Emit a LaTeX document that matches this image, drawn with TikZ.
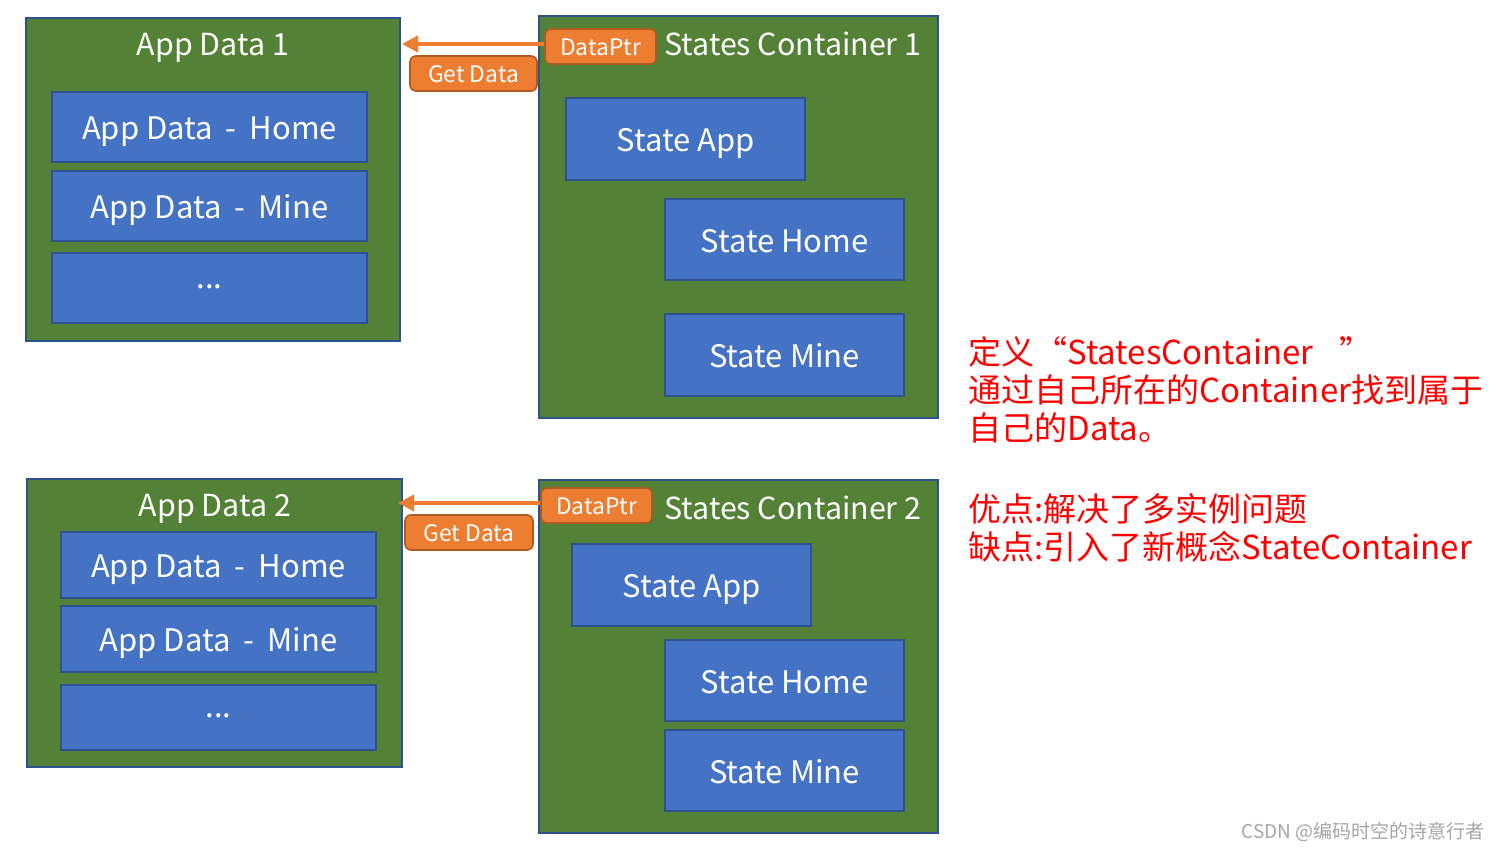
\documentclass[tikz,border=0pt]{standalone}
\usepackage{fontspec}
\setmainfont{Noto Sans CJK SC}
\usetikzlibrary{arrows.meta}
\definecolor{gfill}{HTML}{538135}
\definecolor{bfill}{HTML}{4472C4}
\definecolor{bline}{HTML}{2F528F}
\definecolor{ofill}{HTML}{ED7D31}
\definecolor{oline}{HTML}{AE5A21}
\newcommand{\dsh}{\hspace{0.42em}-\hspace{0.42em}}
\tikzset{
  greenbox/.style={draw=bline,fill=gfill,line width=0.8pt,inner sep=0pt},
  bluebox/.style={draw=bline,fill=bfill,line width=0.8pt,inner sep=0pt,text=white,font=\fontsize{15.5}{18}\selectfont,text height=12.6pt,text depth=0pt},
  dotsbox/.style={bluebox,text height=0pt},
  titletext/.style={text=white,font=\fontsize{15.2}{18}\selectfont,inner sep=0pt,anchor=base},
  tagbox/.style={draw=oline,fill=ofill,rounded corners=3pt,line width=0.8pt,inner sep=0pt,text=white,font=\fontsize{11.4}{13}\selectfont,minimum height=17.5pt,text height=8.6pt,text depth=0pt},
  arr/.style={draw=ofill,line width=2pt,-{Triangle[length=8pt,width=8pt]}},
  redtext/.style={text=red,font=\fontsize{16.5}{19}\selectfont,inner sep=0pt,anchor=west},
}
\begin{document}
\begin{tikzpicture}[x=0.5pt,y=-0.5pt]
\useasboundingbox[fill=white] (0,0) rectangle (1500,851);
% ---------- top group ----------
\node[greenbox,minimum width=187pt,minimum height=161.5pt] (box1) at (213,179.5) {};
\node[titletext] (t1) at (213,55) {App Data 1};
\node[bluebox,minimum width=157.5pt,minimum height=35pt] (a1h) at (209.5,127) {App Data\dsh Home};
\node[bluebox,minimum width=157.5pt,minimum height=35pt] (a1m) at (209.5,206) {App Data\dsh Mine};
\node[dotsbox,minimum width=157.5pt,minimum height=35pt] (a1d) at (209.5,288) {...};

\node[greenbox,minimum width=199.5pt,minimum height=201pt] (sc1) at (738.5,217) {};
\node[titletext,anchor=base west] (st1) at (664,55) {States Container 1};
\node[tagbox,minimum width=55.5pt] (dp1) at (600.5,46.5) {DataPtr};
\node[tagbox,minimum width=63.5pt] (gd1) at (473.5,73.5) {Get Data};
\node[bluebox,minimum width=119.5pt,minimum height=41pt] (sa1) at (685.5,139) {State App};
\node[bluebox,minimum width=119.5pt,minimum height=40.5pt] (sh1) at (784.5,239.5) {State Home};
\node[bluebox,minimum width=119.5pt,minimum height=41pt] (sm1) at (784.5,355) {State Mine};
\coordinate (e1) at (402,44);
\draw[arr] (dp1.west |- e1) -- (e1);

% ---------- bottom group ----------
\node[greenbox,minimum width=187.5pt,minimum height=144pt] (box2) at (214.5,623) {};
\node[titletext] (t2) at (215,516) {App Data 2};
\node[bluebox,minimum width=157.5pt,minimum height=33pt] (a2h) at (218.5,565) {App Data\dsh Home};
\node[bluebox,minimum width=157.5pt,minimum height=33pt] (a2m) at (218.5,639) {App Data\dsh Mine};
\node[dotsbox,minimum width=157.5pt,minimum height=32.5pt] (a2d) at (218.5,717.5) {...};

\node[greenbox,minimum width=199.5pt,minimum height=176.5pt] (sc2) at (738.5,656.5) {};
\node[titletext,anchor=base west] (st2) at (664,519) {States Container 2};
\node[tagbox,minimum width=55.5pt] (dp2) at (596.5,505.5) {DataPtr};
\node[tagbox,minimum width=64pt] (gd2) at (469,532.5) {Get Data};
\node[bluebox,minimum width=119.5pt,minimum height=41pt] (sa2) at (691.5,585) {State App};
\node[bluebox,minimum width=119.5pt,minimum height=40.5pt] (sh2) at (784.5,680.5) {State Home};
\node[bluebox,minimum width=119.5pt,minimum height=40.5pt] (sm2) at (784.5,770.5) {State Mine};
\coordinate (e2) at (398,503);
\draw[arr] (dp2.west |- e2) -- (e2);

% ---------- red notes ----------
\node[redtext] (r1) at (968,352) {定义“StatesContainer\hspace{0.8em}”};
\node[redtext] (r2) at (968,390) {通过自己所在的Container找到属于};
\node[redtext] (r3) at (968,428) {自己的Data。};
\node[redtext] (r4) at (968,509) {优点:解决了多实例问题};
\node[redtext] (r5) at (968,547) {缺点:引入了新概念StateContainer};

% watermark
\node[text=gray!70,font=\fontsize{9.5}{11}\selectfont,inner sep=0pt,anchor=east] (wm) at (1485,832) {CSDN @编码时空的诗意行者};
\end{tikzpicture}
\end{document}
